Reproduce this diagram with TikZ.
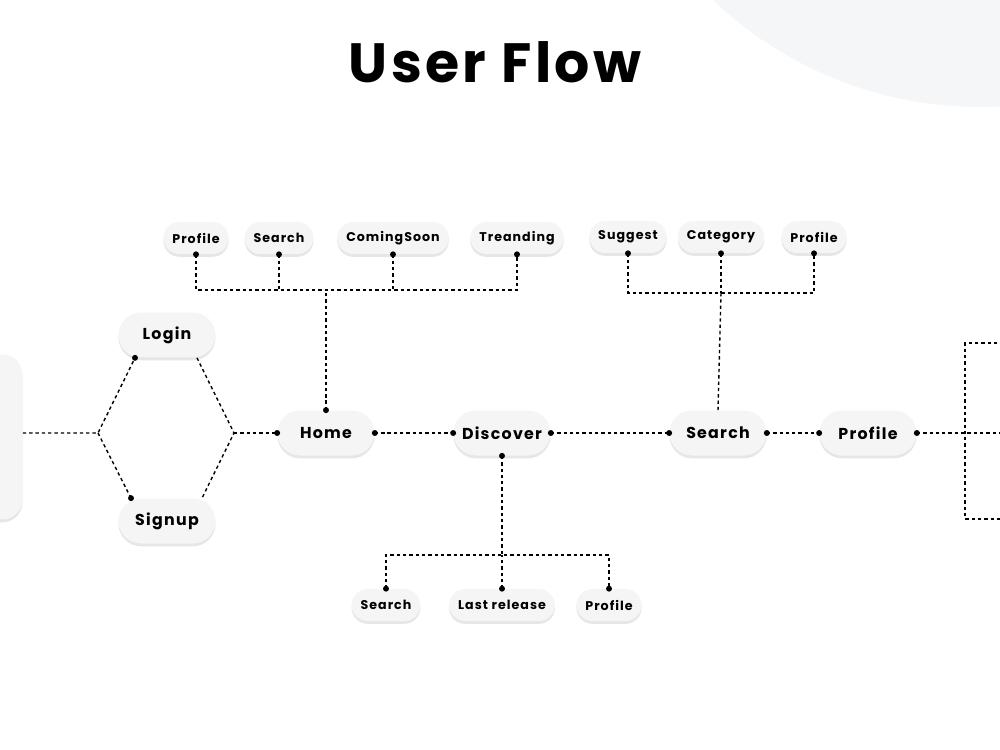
\documentclass[tikz,border=0pt]{standalone}
\usepackage{fontspec}
\setmainfont{Poppins}
\usetikzlibrary{shadows}
\definecolor{pillgray}{HTML}{F5F5F5}
\definecolor{halo}{HTML}{F5F6F7}
\begin{document}
\begin{tikzpicture}[x=0.02cm,y=-0.02cm,
    pill/.style={rectangle, fill=pillgray, inner sep=0pt,
      drop shadow={shadow xshift=0pt, shadow yshift=-1.6pt, fill=black!22, opacity=0.45}},
    bigpill/.style={pill, rounded corners=0.45cm, minimum height=0.9cm, minimum width=1.94cm,
      font=\bfseries\fontsize{9}{10}\selectfont\addfontfeatures{LetterSpace=8}},
    smallpill/.style={pill, rounded corners=0.32cm, minimum height=0.64cm, minimum width=1.3cm,
      inner xsep=0.18cm, font=\bfseries\fontsize{7.2}{8}\selectfont\addfontfeatures{LetterSpace=8}},
    link/.style={line width=0.8pt, dash pattern=on 1.9pt off 1.7pt}]

        \useasboundingbox (0,0) rectangle (1000,750);
        \clip (0,0) rectangle (1000,750);

        % background shape
        \fill[halo] (980,-280) circle (7.74cm);

        \node[font=\bfseries\fontsize{31.5}{34}\selectfont\addfontfeatures{LetterSpace=6}] (title) at (495,62) {User Flow};

        % main row
        \node[pill, rounded corners=0.4cm, minimum width=2.1cm, minimum height=3.3cm] (entry) at (-30,437) {};
        \node[bigpill] (login) at (167,335) {Login};
        \node[bigpill] (signup) at (167,521) {Signup};
        \node[bigpill] (home) at (326,433) {Home};
        \node[bigpill] (discover) at (502,433) {Discover};
        \node[bigpill] (search) at (718,433) {Search};
        \node[bigpill] (profile) at (868,433) {Profile};

        % branches
        \node[smallpill] (hprofile) at (196,238) {Profile};
        \node[smallpill] (hsearch) at (279,238) {Search};
        \node[smallpill] (hsoon) at (393,238) {ComingSoon};
        \node[smallpill] (htrend) at (517,238) {Treanding};
        \node[smallpill] (ssuggest) at (628,237) {Suggest};
        \node[smallpill] (scategory) at (721,237) {Category};
        \node[smallpill] (sprofile) at (814,237) {Profile};
        \node[smallpill] (dsearch) at (386,605) {Search};
        \node[smallpill] (drelease) at (502,605) {Last release};
        \node[smallpill] (dprofile) at (609,605) {Profile};

        \coordinate (lhub) at (98,433);
        \coordinate (rhub) at (234,433);
        \coordinate (loginl) at ([xshift=-0.64cm]login.south);
        \coordinate (loginr) at ([xshift=0.6cm]login.south);
        \coordinate (signupl) at ([xshift=-0.72cm]signup.north);
        \coordinate (signupr) at ([xshift=0.7cm]signup.north);
        \coordinate (hbar) at (326,290);
        \coordinate (sbar) at (721,293);
        \coordinate (dbar) at (502,555);
        \coordinate (fork) at (965,433);

        \draw[link] (entry.east |- lhub) -- (lhub) -- (loginl);
        \draw[link] (lhub) -- (signupl);
        \draw[link] (loginr) -- (rhub) -- (signupr);
        \draw[link] (rhub) -- (home.west);
        \draw[link] (home.east) -- (discover.west);
        \draw[link] (discover.east) -- (search.west);
        \draw[link] (search.east) -- (profile.west);
        \draw[link] (profile.east) -- (fork) -- (1010,433);
        \draw[link] (1010,343) -- (965,343) -- (965,519) -- (1010,519);

        \draw[link] (home.north) -- (hbar);
        \draw[link] (hprofile.south) -- (hprofile.south |- hbar) -- (htrend.south |- hbar) -- (htrend.south);
        \draw[link] (hsearch.south) -- (hsearch.south |- hbar);
        \draw[link] (hsoon.south) -- (hsoon.south |- hbar);

        \draw[link] (search.north) -- (sbar);
        \draw[link] (ssuggest.south) -- (ssuggest.south |- sbar) -- (sprofile.south |- sbar) -- (sprofile.south);
        \draw[link] (scategory.south) -- (scategory.south |- sbar);

        \draw[link] (discover.south) -- (dbar);
        \draw[link] (dsearch.north) -- (dsearch.north |- dbar) -- (dprofile.north |- dbar) -- (dprofile.north);
        \draw[link] (drelease.north) -- (drelease.north |- dbar);

        % end dots
        \foreach \p in {loginl, signupl, home.west, home.east, home.north, discover.west, discover.east,
            discover.south, search.west, search.east, profile.west, profile.east,
            hprofile.south, hsearch.south, hsoon.south, htrend.south,
            ssuggest.south, scategory.south, sprofile.south,
            dsearch.north, drelease.north, dprofile.north}
            \fill (\p) circle (1.7pt);
    \end{tikzpicture}
\end{document}
